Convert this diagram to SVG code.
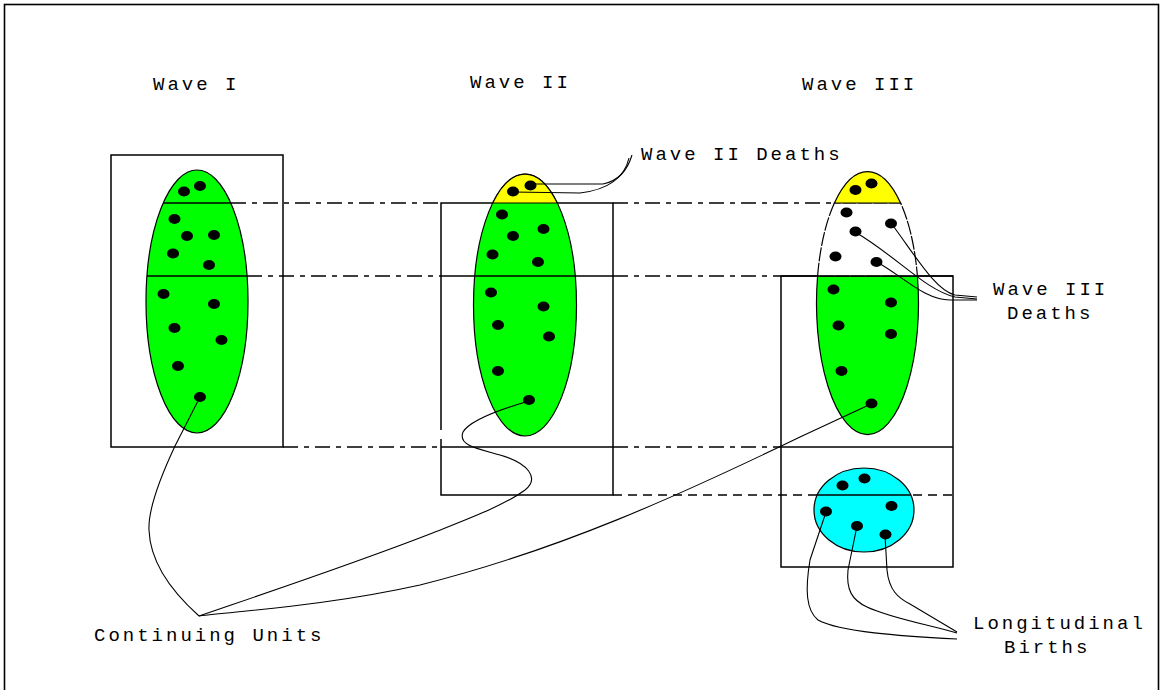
<svg xmlns="http://www.w3.org/2000/svg" width="1162" height="690" viewBox="0 0 1162 690">
<style>
  .frame{fill:none;stroke:#000;stroke-width:1.6}
  .box{fill:none;stroke:#000;stroke-width:1.5}
  .solid{fill:none;stroke:#000;stroke-width:1.3}
  .guide{fill:none;stroke:#000;stroke-width:1.3;stroke-dasharray:15 6 5 6}
  .dash{fill:none;stroke:#000;stroke-width:1.3;stroke-dasharray:9 6}
  .green{fill:#00ff00;stroke:#000;stroke-width:1.2}
  .yellow{fill:#ffff00;stroke:#000;stroke-width:1.2}
  .white{fill:#fff;stroke:#000;stroke-width:1.2;stroke-dasharray:14 1.5}
  .cyan{fill:#00ffff;stroke:#000;stroke-width:1.2}
  .dot{fill:#000}
  .conn{fill:none;stroke:#000;stroke-width:1.1}
  text{font-family:"Liberation Mono","Courier New",monospace;font-size:19px;letter-spacing:3px;fill:#000}
</style>
<rect class="frame" x="4.5" y="4.5" width="1154" height="700"/>

<g id="titles">
  <text x="153" y="90">Wave I</text>
  <text x="470" y="88">Wave II</text>
  <text x="802" y="90">Wave III</text>
</g>

<g id="guides">
  <line class="guide" x1="231" y1="203" x2="441" y2="203"/>
  <line class="guide" x1="613" y1="203" x2="834" y2="203"/>
  <line class="guide" x1="247" y1="276" x2="441" y2="276"/>
  <line class="guide" x1="613" y1="276" x2="781" y2="276"/>
  <line class="guide" x1="283" y1="447" x2="441" y2="447"/>
  <line class="guide" x1="613" y1="447" x2="781" y2="447"/>
  <line class="dash" x1="613" y1="495" x2="953" y2="495"/>
</g>

<g id="wave1">
  <rect class="box" x="111" y="155" width="172" height="292"/>
  <ellipse class="green" cx="197" cy="301.5" rx="51" ry="131.5"/>
  <line class="solid" x1="163" y1="203" x2="231" y2="203"/>
  <line class="solid" x1="147" y1="276" x2="247" y2="276"/>
  <g class="dot">
    <ellipse cx="184" cy="191.5" rx="6" ry="5"/>
    <ellipse cx="200" cy="186" rx="6" ry="5"/>
    <ellipse cx="174.5" cy="219" rx="6" ry="5"/>
    <ellipse cx="187" cy="236" rx="6" ry="5"/>
    <ellipse cx="214" cy="235" rx="6" ry="5"/>
    <ellipse cx="173" cy="253.5" rx="6" ry="5"/>
    <ellipse cx="209" cy="265" rx="6" ry="5"/>
    <ellipse cx="163.5" cy="294" rx="6" ry="5"/>
    <ellipse cx="214" cy="304" rx="6" ry="5"/>
    <ellipse cx="174.5" cy="328" rx="6" ry="5"/>
    <ellipse cx="221.5" cy="340" rx="6" ry="5"/>
    <ellipse cx="178" cy="366" rx="6" ry="5"/>
    <ellipse cx="200" cy="397" rx="6" ry="5"/>
  </g>
</g>

<g id="wave2">
  <path class="box" d="M441,430 V203 H613 V495 H441 V439"/>
  <line class="solid" x1="441" y1="276" x2="613" y2="276"/>
  <line class="solid" x1="441" y1="447" x2="613" y2="447"/>
  <ellipse class="green" cx="525" cy="305" rx="51.5" ry="131"/>
  <path class="yellow" d="M492.7,203 A51.5,131 0 0 1 557.3,203 Z"/>
  <line class="solid" x1="474" y1="276" x2="576" y2="276"/>
  <g class="dot">
    <ellipse cx="513" cy="191.5" rx="6" ry="5"/>
    <ellipse cx="530.5" cy="185.5" rx="6" ry="5"/>
    <ellipse cx="502" cy="214.5" rx="6" ry="5"/>
    <ellipse cx="513" cy="236" rx="6" ry="5"/>
    <ellipse cx="543.5" cy="229" rx="6" ry="5"/>
    <ellipse cx="492.5" cy="254.5" rx="6" ry="5"/>
    <ellipse cx="538" cy="262" rx="6" ry="5"/>
    <ellipse cx="491" cy="292.5" rx="6" ry="5"/>
    <ellipse cx="543.5" cy="306.5" rx="6" ry="5"/>
    <ellipse cx="498" cy="325" rx="6" ry="5"/>
    <ellipse cx="549" cy="336.5" rx="6" ry="5"/>
    <ellipse cx="498" cy="371" rx="6" ry="5"/>
    <ellipse cx="529" cy="400" rx="6" ry="5"/>
  </g>
</g>

<g id="wave3">
  <rect class="box" x="781" y="276" width="172" height="291"/>
  <line class="solid" x1="781" y1="447" x2="953" y2="447"/>
  <path class="green" d="M817.6,276 A51,131.5 0 1 0 917.4,276 Z"/>
  <path class="white" d="M834.4,203 A51,131.5 0 0 0 817.6,276 L917.4,276 A51,131.5 0 0 0 900.6,203 Z"/>
  <path class="yellow" d="M834.4,203 A51,131.5 0 0 1 900.6,203 Z"/>
  <line class="solid" x1="781" y1="276" x2="953" y2="276"/>
  <g class="dot">
    <ellipse cx="855.5" cy="190" rx="6" ry="5"/>
    <ellipse cx="871.5" cy="183.5" rx="6" ry="5"/>
    <ellipse cx="846.5" cy="212.5" rx="6" ry="5"/>
    <ellipse cx="891" cy="223.5" rx="6" ry="5"/>
    <ellipse cx="855.5" cy="231.5" rx="6" ry="5"/>
    <ellipse cx="835.5" cy="256.5" rx="6" ry="5"/>
    <ellipse cx="876.5" cy="262" rx="6" ry="5"/>
    <ellipse cx="833.5" cy="289.5" rx="6" ry="5"/>
    <ellipse cx="891" cy="302.5" rx="6" ry="5"/>
    <ellipse cx="838.5" cy="325.5" rx="6" ry="5"/>
    <ellipse cx="891" cy="334" rx="6" ry="5"/>
    <ellipse cx="841.5" cy="371" rx="6" ry="5"/>
    <ellipse cx="871.5" cy="403.5" rx="6" ry="5"/>
  </g>
</g>

<g id="births">
  <ellipse class="cyan" cx="864" cy="510" rx="50" ry="42"/>
  <line class="solid" x1="817.3" y1="495" x2="910.7" y2="495"/>
  <g class="dot">
    <ellipse cx="842.5" cy="485.5" rx="6" ry="5"/>
    <ellipse cx="864.5" cy="478.5" rx="6" ry="5"/>
    <ellipse cx="891.5" cy="506" rx="6" ry="5"/>
    <ellipse cx="826" cy="511.5" rx="6" ry="5"/>
    <ellipse cx="857" cy="526" rx="6" ry="5"/>
    <ellipse cx="885.5" cy="534.5" rx="6" ry="5"/>
  </g>
</g>

<g id="connectors">
  <path class="conn" d="M531,184 L603,184 C618,181 627,172 632,155"/>
  <path class="conn" d="M513,192 L580,193 C605,190 624,180 629,158"/>
  <path class="conn" d="M891,223 C915,255 935,290 955,295 L977,297"/>
  <path class="conn" d="M855,232 C895,255 925,290 955,297 L977,299"/>
  <path class="conn" d="M877,262 C905,278 925,300 950,300 L977,300"/>
  <path class="conn" d="M200,397 L175,446 C160,478 148,510 149,530 C150,560 170,590 199,616"/>
  <path class="conn" d="M529,401 C505,408 470,420 463,432 C458,445 475,448 500,455 C528,463 540,478 525,490 C505,505 470,518 430,534 C350,565 260,595 199,616"/>
  <path class="conn" d="M871,404 L800,437 C680,495 560,550 420,585 C330,605 250,610 199,616"/>
  <path class="conn" d="M826,512 L810,560 C805,590 806,610 818,620 C840,632 900,636 957,639"/>
  <path class="conn" d="M857,526 L848,570 C846,590 852,600 867,607 C890,618 930,625 957,633"/>
  <path class="conn" d="M885,535 L887,570 C889,590 898,598 910,604 L957,632"/>
</g>

<g id="labels">
  <text x="641" y="160">Wave II Deaths</text>
  <text x="993" y="295">Wave III</text>
  <text x="1007" y="319">Deaths</text>
  <text x="973" y="629">Longitudinal</text>
  <text x="1004" y="653">Births</text>
  <text x="94" y="641">Continuing Units</text>
</g>
</svg>
